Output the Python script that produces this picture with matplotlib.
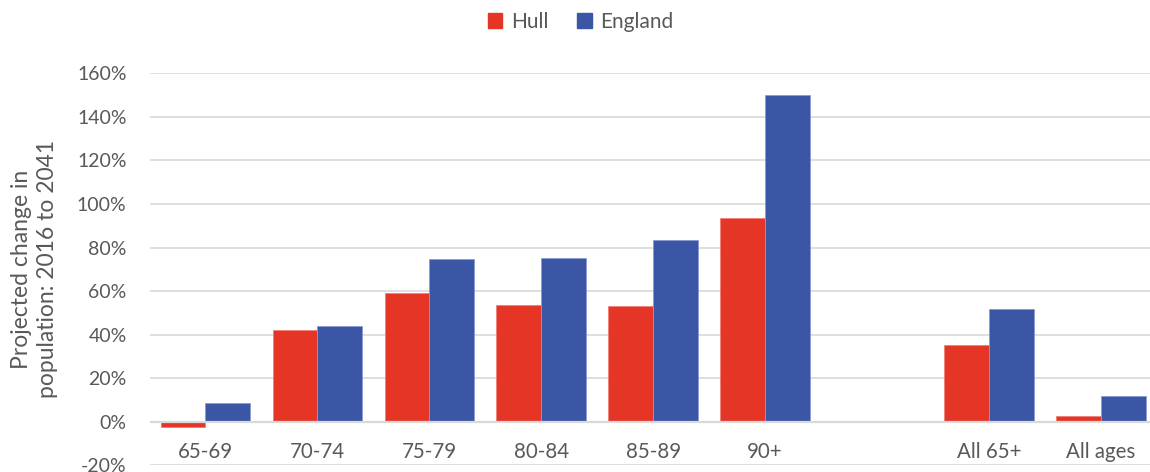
import numpy as np
import matplotlib
matplotlib.use("Agg")
import matplotlib.pyplot as plt
from matplotlib.patches import Patch

# data (fraction change 2016 -> 2041)
categories = ['65-69', '70-74', '75-79', '80-84', '85-89', '90+', '', 'All 65+', 'All ages']
hull = [-0.024, 0.421, 0.591, 0.536, 0.531, 0.935, np.nan, 0.352, 0.027]
england = [0.086, 0.439, 0.747, 0.752, 0.834, 1.501, np.nan, 0.517, 0.119]

red = '#E53526'
blue = '#3B56A4'
grey_txt = '#595959'
grid_col = '#D9D9D9'

plt.rcParams['font.family'] = ['Lato', 'DejaVu Sans']

fig = plt.figure(figsize=(11.5, 4.72), dpi=100)
ax = fig.add_axes([0.13, 0.0148, 0.876, 0.8295])

x = np.arange(len(categories))
w = 0.4
ax.bar(x - w / 2, hull, w, color=red, edgecolor='#EE7F76', linewidth=0.6, zorder=3)
ax.bar(x + w / 2, england, w, color=blue, edgecolor='#8C9BD0', linewidth=0.6, zorder=3)

ax.set_xlim(-0.5, len(categories) - 0.5)
ax.set_ylim(-0.2, 1.6)
ticks = np.arange(-0.2, 1.61, 0.2)
ax.set_yticks(ticks)
ax.set_yticklabels([f'{t * 100:.0f}%' for t in ticks], color=grey_txt, fontsize=14)
ax.tick_params(axis='y', length=0, pad=16.5)
ax.set_xticks([])
ax.yaxis.grid(True, color=grid_col, linewidth=1.2, zorder=0)
ax.axhline(0, color=grid_col, linewidth=1.6, zorder=4)
for s in ax.spines.values():
    s.set_visible(False)

# category labels sit just under the zero line, like Excel
for xi, lab in zip(x, categories):
    ax.text(xi, -0.141, lab, ha='center', va='center', fontsize=14.8, color=grey_txt)

fig.text(0.03, 0.43, 'Projected change in\npopulation: 2016 to 2041', rotation=90,
         ha='center', va='center', fontsize=16.5, color=grey_txt, linespacing=1.3)

handles = [Patch(color=red, label='Hull'), Patch(color=blue, label='England')]
fig.legend(handles=handles, loc='center', bbox_to_anchor=(0.505, 0.954), ncol=2,
           frameon=False, fontsize=15, handlelength=0.7, handleheight=0.7,
           handletextpad=0.4, columnspacing=1.4, labelcolor=grey_txt)

fig.savefig('out.png', dpi=100)
